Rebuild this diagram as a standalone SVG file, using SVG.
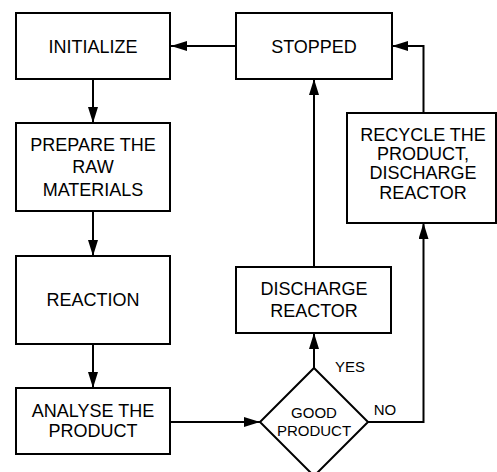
<svg xmlns="http://www.w3.org/2000/svg" width="497" height="472" viewBox="0 0 497 472">
<style>
.box{fill:#fff;stroke:#000;stroke-width:2}
.t{font-family:"Liberation Sans",Arial,sans-serif;font-size:18px;fill:#000;text-anchor:middle}
.s{font-family:"Liberation Sans",Arial,sans-serif;font-size:15px;fill:#000;text-anchor:middle}
.c{fill:none;stroke:#000;stroke-width:2}
</style>
<defs>
<marker id="ah" viewBox="0 0 16 10" refX="16" refY="5" markerWidth="16" markerHeight="10" markerUnits="userSpaceOnUse" orient="auto">
<path d="M0,0 L16,5 L0,10 Z" fill="#000"/>
</marker>
</defs>
<rect width="497" height="472" fill="#fff"/>
<g id="connectors">
<line class="c" x1="236" y1="46" x2="171" y2="46" marker-end="url(#ah)"/>
<line class="c" x1="93" y1="79" x2="93" y2="123" marker-end="url(#ah)"/>
<line class="c" x1="93" y1="211" x2="93" y2="256" marker-end="url(#ah)"/>
<line class="c" x1="93" y1="344" x2="93" y2="388" marker-end="url(#ah)"/>
<line class="c" x1="170" y1="422" x2="260" y2="422" marker-end="url(#ah)"/>
<line class="c" x1="314" y1="368" x2="314" y2="333" marker-end="url(#ah)"/>
<line class="c" x1="314" y1="267" x2="314" y2="79" marker-end="url(#ah)"/>
<polyline class="c" points="368,422 423.5,422 423.5,223" marker-end="url(#ah)"/>
<polyline class="c" points="423.5,113 423.5,46 392,46" marker-end="url(#ah)"/>
</g>
<g id="initialize">
<rect class="box" x="16" y="13" width="154" height="66"/>
<text class="t" x="93" y="52.5">INITIALIZE</text>
</g>
<g id="prepare">
<rect class="box" x="16" y="123" width="154" height="88"/>
<text class="t" x="93" y="150.5">PREPARE THE</text>
<text class="t" x="93" y="173">RAW</text>
<text class="t" x="93" y="195.5">MATERIALS</text>
</g>
<g id="reaction">
<rect class="box" x="16" y="256" width="154" height="88"/>
<text class="t" x="93" y="305.5">REACTION</text>
</g>
<g id="analyse">
<rect class="box" x="16" y="388" width="154" height="66"/>
<text class="t" x="93" y="416.5">ANALYSE THE</text>
<text class="t" x="93" y="437">PRODUCT</text>
</g>
<g id="stopped">
<rect class="box" x="236" y="13" width="156" height="66"/>
<text class="t" x="314" y="52.5">STOPPED</text>
</g>
<g id="recycle">
<rect class="box" x="347" y="113" width="149" height="110"/>
<text class="t" x="423" y="140.5">RECYCLE THE</text>
<text class="t" x="423" y="159.5">PRODUCT,</text>
<text class="t" x="423" y="179">DISCHARGE</text>
<text class="t" x="423" y="198.5">REACTOR</text>
</g>
<g id="discharge">
<rect class="box" x="236" y="267" width="155" height="66"/>
<text class="t" x="314" y="294.5">DISCHARGE</text>
<text class="t" x="314" y="316.5">REACTOR</text>
</g>
<g id="good">
<polygon class="box" points="314,368 368,422 314,476 260,422"/>
<text class="s" x="314" y="418">GOOD</text>
<text class="s" x="314" y="435.5">PRODUCT</text>
</g>
<g id="labels">
<text class="s" x="350" y="371.5">YES</text>
<text class="s" x="385" y="415">NO</text>
</g>
</svg>
